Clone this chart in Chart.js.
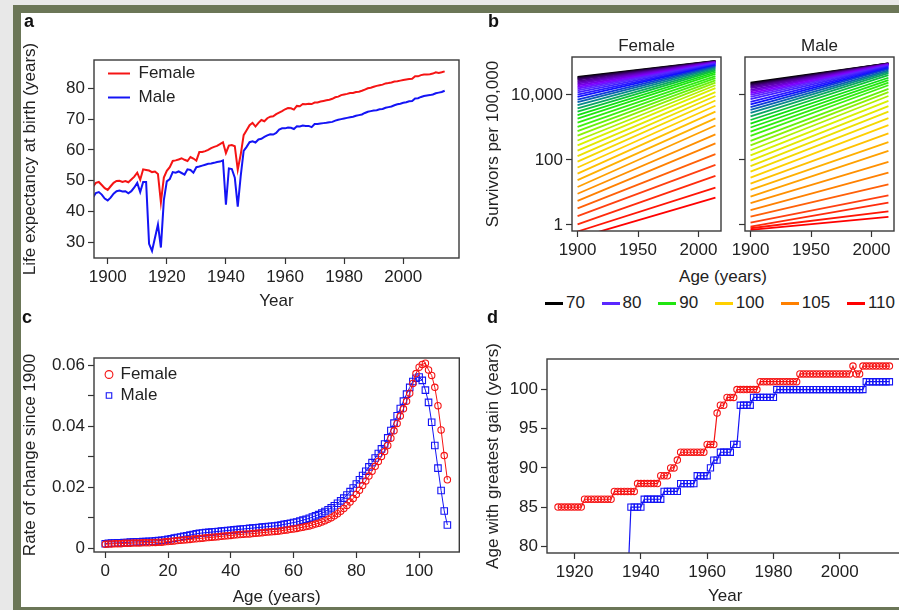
<!DOCTYPE html>
<html>
<head>
<meta charset="utf-8">
<script src="https://cdn.jsdelivr.net/npm/chart.js@4.4.1/dist/chart.umd.min.js"></script>
<style>
html, body { margin: 0; padding: 0; width: 899px; height: 610px; overflow: hidden; background: #e8e8e8; font-family: "Liberation Sans", Arial, sans-serif; }
#frame { position: absolute; left: 13px; top: 5px; width: 1000px; height: 594px; border: 8px solid #6b7657; background: #fff; }
#frameBottom { position: absolute; left: 13px; top: 607px; width: 1000px; height: 8px; background: #6b7657; z-index: 5; }
canvas { position: absolute; z-index: 2; }
.lbl { position: absolute; font-weight: bold; font-size: 18px; line-height: 18px; color: #111; z-index: 3; }
.txt { position: absolute; font-size: 17px; line-height: 20px; color: #222; z-index: 3; }
#bLegend { position: absolute; left: 545px; top: 293px; width: 350px; height: 20px; display: flex; justify-content: space-between; align-items: center; z-index: 3; }
#bLegend span.sw { display: inline-block; width: 18px; height: 3px; margin-right: 3px; vertical-align: middle; }
#bLegend div { font-size: 17px; color: #222; white-space: nowrap; }
</style>
</head>
<body>
<div id="frame"></div>
<div id="frameBottom"></div>

<div class="lbl" style="left:24px;top:12px">a</div>
<div class="lbl" style="left:488px;top:12px">b</div>
<div class="lbl" style="left:22px;top:308px">c</div>
<div class="lbl" style="left:487px;top:308px">d</div>

<canvas id="cA" width="443" height="282" style="left:20px;top:30px"></canvas>
<canvas id="cBF" width="242" height="232" style="left:483px;top:30px"></canvas>
<canvas id="cBM" width="171" height="232" style="left:728px;top:30px"></canvas>
<canvas id="cC" width="445" height="278" style="left:20px;top:330px"></canvas>
<canvas id="cD" width="426" height="277" style="left:483px;top:330px"></canvas>

<div class="txt" style="left:623px;top:267px;width:200px;text-align:center">Age (years)</div>
<div id="bLegend"></div>

<script>
// ---------- panel a: life expectancy at birth, 1895-2014 ----------
var aFirstYear = 1895;
var aFemale = [
  48.0, 49.3, 49.6, 48.6, 47.6, 47.0, 48.2, 49.3, 49.9, 50.0,
  49.6, 49.9, 49.5, 50.4, 51.3, 52.6, 50.3, 53.7, 53.5, 53.3,
  52.8, 53.0, 52.2, 43.0, 51.0, 53.2, 54.4, 56.4, 56.6, 56.9,
  57.3, 56.8, 56.4, 57.7, 57.2, 56.5, 59.3, 59.3, 59.6, 60.0,
  60.6, 61.0, 61.3, 61.9, 62.5, 59.0, 61.4, 61.6, 61.2, 53.6,
  58.5, 64.8, 66.4, 68.0, 68.8, 67.6, 68.8, 69.7, 69.3, 70.3,
  70.8, 70.9, 71.6, 72.1, 72.6, 73.2, 73.6, 73.5, 73.1, 74.3,
  74.2, 74.9, 74.8, 75.0, 74.9, 75.4, 75.4, 75.7, 75.9, 76.1,
  76.3, 76.6, 77.1, 77.3, 77.8, 78.0, 78.2, 78.5, 78.5, 78.8,
  78.9, 79.2, 79.6, 80.0, 80.2, 80.5, 80.8, 81.0, 81.2, 81.6,
  81.7, 81.9, 82.2, 82.3, 82.5, 82.7, 82.9, 83.0, 83.1, 83.9,
  83.9, 84.3, 84.5, 84.5, 84.6, 84.8, 85.2, 85.0, 85.2, 85.5
];
var aMale = [
  44.5, 46.0, 46.3, 45.5, 44.2, 43.6, 44.5, 45.8, 46.6, 46.8,
  46.5, 46.6, 45.9, 46.6, 47.8, 49.3, 46.3, 49.6, 49.6, 29.5,
  27.2, 31.5, 35.8, 28.3, 43.7, 49.8, 50.5, 52.8, 52.6, 53.0,
  52.5, 52.0, 53.7, 53.5, 52.6, 54.4, 54.6, 54.9, 55.2, 55.5,
  55.6, 55.8, 56.1, 56.2, 56.6, 42.2, 54.0, 53.8, 51.0, 41.6,
  51.5, 59.7, 61.0, 62.5, 62.8, 62.4, 63.4, 63.6, 64.2, 64.7,
  65.1, 65.0, 65.5, 66.6, 67.0, 67.0, 67.3, 67.2, 66.8, 67.7,
  67.6, 67.9, 67.8, 67.8, 67.4, 68.4, 68.4, 68.6, 68.7, 68.8,
  69.0, 69.1, 69.5, 69.8, 70.0, 70.2, 70.4, 70.6, 70.8, 71.1,
  71.3, 71.5, 72.0, 72.4, 72.6, 72.8, 72.9, 73.2, 73.3, 73.7,
  73.9, 74.1, 74.5, 74.8, 75.0, 75.3, 75.5, 75.8, 75.9, 76.7,
  76.8, 77.2, 77.5, 77.7, 77.8, 78.0, 78.4, 78.6, 78.8, 79.2
];
var aXTicks = [1900, 1920, 1940, 1960, 1980, 2000];
var aXLabels = ['1900', '1920', '1940', '1960', '1980', '2000'];
var aYTicks = [30, 40, 50, 60, 70, 80];
var aYLabels = ['30', '40', '50', '60', '70', '80'];

// ---------- panel b: survivors per 100,000 (log10), line per age, 1900 -> 2014 ----------
var bAges = [70, 71, 72, 73, 74, 75, 76, 77, 78, 79, 80, 81, 82, 83, 84, 85, 86, 87, 88, 89,
  90, 91, 92, 93, 94, 95, 96, 97, 98, 99, 100, 101, 102, 103, 104, 105, 106, 107, 108, 109, 110];
var bYears = [1900, 2014];
var bFemaleStart = [
  4.56, 4.53, 4.50, 4.47, 4.43, 4.39, 4.35, 4.30, 4.25, 4.20,
  4.14, 4.08, 4.01, 3.94, 3.86, 3.78, 3.69, 3.59, 3.49, 3.38,
  3.27, 3.15, 3.02, 2.89, 2.75, 2.60, 2.45, 2.29, 2.12, 1.95,
  1.77, 1.58, 1.38, 1.17, 0.96, 0.74, 0.51, 0.27, 0.02, -0.20,
  -0.40
];
var bFemaleEnd = [
  5.05, 5.04, 5.04, 5.03, 5.03, 5.02, 5.01, 5.00, 4.99, 4.98,
  4.97, 4.95, 4.93, 4.91, 4.89, 4.86, 4.83, 4.79, 4.75, 4.70,
  4.65, 4.58, 4.52, 4.45, 4.38, 4.30, 4.21, 4.09, 3.97, 3.83,
  3.67, 3.49, 3.28, 3.06, 2.79, 2.51, 2.18, 1.85, 1.51, 1.15,
  0.84
];
var bMaleStart = [
  4.38, 4.35, 4.32, 4.29, 4.25, 4.21, 4.16, 4.11, 4.06, 4.00,
  3.94, 3.87, 3.79, 3.71, 3.63, 3.54, 3.45, 3.34, 3.23, 3.12,
  3.00, 2.87, 2.74, 2.59, 2.45, 2.30, 2.14, 1.98, 1.81, 1.64,
  1.46, 1.27, 1.08, 0.87, 0.67, 0.46, 0.26, 0.07, -0.05, -0.10,
  -0.15
];
var bMaleEnd = [
  4.97, 4.97, 4.97, 4.96, 4.96, 4.95, 4.95, 4.94, 4.93, 4.92,
  4.90, 4.88, 4.86, 4.83, 4.80, 4.76, 4.72, 4.67, 4.61, 4.53,
  4.46, 4.38, 4.30, 4.19, 4.09, 3.97, 3.82, 3.66, 3.49, 3.29,
  3.07, 2.82, 2.55, 2.28, 1.94, 1.61, 1.25, 0.91, 0.69, 0.42,
  0.25
];
var bXTicks = [1900, 1950, 2000];
var bXLabels = ['1900', '1950', '2000'];
var bYTicks = [1, 100, 10000];
var bYLabels = ['1', '100', '10,000'];
var bLegendAges = [70, 80, 90, 100, 105, 110];
// colour ramp used for the age lines
var bColorAges = [70, 74, 78, 80, 83, 86, 89, 92, 96, 100, 105, 107, 110];
var bColorHex = ['#000000', '#4e0090', '#8000ff', '#5a28ff', '#1010ff', '#0a8a8a', '#10e010', '#40f010', '#d8f000', '#ffd000', '#ff8000', '#ff4010', '#ff0000'];

// ---------- panel c: rate of change since 1900, ages 0-109 ----------
var cFemale = [
  0.0014, 0.0015, 0.0015, 0.0016, 0.0016, 0.0016, 0.0017, 0.0017, 0.0017, 0.0018,
  0.0018, 0.0018, 0.0019, 0.0019, 0.0019, 0.0020, 0.0020, 0.0021, 0.0021, 0.0022,
  0.0023, 0.0024, 0.0025, 0.0026, 0.0027, 0.0028, 0.0029, 0.0030, 0.0031, 0.0032,
  0.0033, 0.0034, 0.0035, 0.0036, 0.0037, 0.0038, 0.0039, 0.0040, 0.0041, 0.0042,
  0.0043, 0.0044, 0.0045, 0.0046, 0.0047, 0.0048, 0.0048, 0.0049, 0.0050, 0.0051,
  0.0052, 0.0053, 0.0054, 0.0055, 0.0056, 0.0057, 0.0058, 0.0060, 0.0061, 0.0063,
  0.0064, 0.0066, 0.0068, 0.0070, 0.0072, 0.0074, 0.0077, 0.0080, 0.0083, 0.0087,
  0.0091, 0.0096, 0.0101, 0.0107, 0.0114, 0.0122, 0.0131, 0.0141, 0.0152, 0.0164,
  0.0177, 0.0191, 0.0206, 0.0221, 0.0237, 0.0253, 0.0269, 0.0285, 0.0301, 0.0317,
  0.0337, 0.0361, 0.0385, 0.0409, 0.0433, 0.0457, 0.0482, 0.0508, 0.0540, 0.0572,
  0.0593, 0.0602, 0.0606, 0.0584, 0.0566, 0.0527, 0.0467, 0.0388, 0.0304, 0.0225
];
var cMale = [
  0.0016, 0.0017, 0.0018, 0.0018, 0.0019, 0.0019, 0.0020, 0.0020, 0.0021, 0.0021,
  0.0022, 0.0022, 0.0023, 0.0023, 0.0024, 0.0024, 0.0025, 0.0026, 0.0027, 0.0028,
  0.0030, 0.0032, 0.0034, 0.0036, 0.0038, 0.0040, 0.0042, 0.0044, 0.0046, 0.0048,
  0.0050, 0.0051, 0.0052, 0.0053, 0.0054, 0.0055, 0.0056, 0.0057, 0.0058, 0.0059,
  0.0060, 0.0061, 0.0062, 0.0063, 0.0064, 0.0065, 0.0066, 0.0067, 0.0068, 0.0069,
  0.0070, 0.0071, 0.0072, 0.0073, 0.0074, 0.0075, 0.0077, 0.0079, 0.0081, 0.0083,
  0.0085, 0.0087, 0.0090, 0.0093, 0.0096, 0.0099, 0.0103, 0.0107, 0.0111, 0.0116,
  0.0121, 0.0127, 0.0133, 0.0140, 0.0148, 0.0156, 0.0165, 0.0175, 0.0186, 0.0198,
  0.0211, 0.0225, 0.0239, 0.0253, 0.0267, 0.0281, 0.0296, 0.0311, 0.0326, 0.0342,
  0.0362, 0.0386, 0.0410, 0.0434, 0.0458, 0.0482, 0.0505, 0.0527, 0.0546, 0.0557,
  0.0561, 0.0550, 0.0518, 0.0478, 0.0413, 0.0337, 0.0263, 0.0190, 0.0123, 0.0077
];
var cXTicks = [0, 20, 40, 60, 80, 100];
var cXLabels = ['0', '20', '40', '60', '80', '100'];
var cYTicks = [0, 0.01, 0.02, 0.03, 0.04, 0.05, 0.06];
var cYLabels = ['0', '', '0.02', '', '0.04', '', '0.06'];

// ---------- panel d: age with greatest gain ----------
var dFemaleFirstYear = 1915;
var dFemale = [
  85, 85, 85, 85, 85, 85, 85, 85,
  86, 86, 86, 86, 86, 86, 86, 86, 86,
  87, 87, 87, 87, 87, 87, 87,
  88, 88, 88, 88, 88, 88, 88,
  89, 89, 89, 90, 90, 91,
  92, 92, 92, 92, 92, 92, 92, 92,
  93, 93, 93, 97, 98, 98, 99, 99, 99,
  100, 100, 100, 100, 100, 100, 100,
  101, 101, 101, 101, 101, 101, 101, 101, 101, 101, 101, 101,
  102, 102, 102, 102, 102, 102, 102, 102, 102, 102, 102, 102, 102, 102, 102, 102,
  103, 102, 102,
  103, 103, 103, 103, 103, 103, 103, 103, 103
];
var dMaleFirstYear = 1936;
var dMale = [
  75,
  85, 85, 85, 85,
  86, 86, 86, 86, 86, 86,
  87, 87, 87, 87, 87,
  88, 88, 88, 88, 88,
  89, 89, 89, 89,
  90, 91, 91,
  92, 92, 92, 92,
  93, 93,
  98, 98, 98, 98,
  99, 99, 99, 99, 99, 99, 99,
  100, 100, 100, 100, 100, 100, 100, 100, 100, 100, 100, 100, 100, 100,
  100, 100, 100, 100, 100, 100, 100, 100, 100, 100, 100, 100, 100,
  101, 101, 101, 101, 101, 101, 101, 101
];
var dXTicks = [1920, 1940, 1960, 1980, 2000];
var dXLabels = ['1920', '1940', '1960', '1980', '2000'];
var dYTicks = [80, 85, 90, 95, 100];
var dYLabels = ['80', '85', '90', '95', '100'];

var RED = '#f51414';
var BLUE = '#1414f5';
var NONE = 'rgba(255,255,255,0)';

Chart.defaults.font.family = '"Liberation Sans", Arial, Helvetica, sans-serif';
Chart.defaults.font.size = 17;
Chart.defaults.color = '#222';

// R style box round the plot region
var plotBox = {
  id: 'plotBox',
  afterDatasetsDraw: function(chart) {
    var a = chart.chartArea, ctx = chart.ctx;
    ctx.save();
    ctx.strokeStyle = '#3a3a3a';
    ctx.lineWidth = 1.4;
    ctx.strokeRect(a.left, a.top, a.right - a.left, a.bottom - a.top);
    ctx.restore();
  }
};

// put the in-plot legend at the top left corner
var legendSpot = {
  id: 'legendSpot',
  afterLayout: function(chart, args, opts) {
    var lg = chart.legend;
    if (!lg || opts.dx === undefined) return;
    var a = chart.chartArea;
    lg.left = a.left + opts.dx;
    lg.top = a.top + opts.dy;
    lg.right = a.right;
    lg.bottom = a.bottom;
  }
};

function axis(o) {
  return {
    type: o.type || 'linear',
    position: o.position,
    min: o.min,
    max: o.max,
    afterBuildTicks: function(s) { s.ticks = o.ticks.map(function(v) { return { value: v }; }); },
    afterFit: function(s) { if (o.position === 'left') s.width = o.size; else s.height = o.size; },
    ticks: {
      display: o.showLabels !== false,
      padding: 3,
      color: '#222',
      maxRotation: 0,
      autoSkip: false,
      callback: function(v, i) { return o.labels[i]; }
    },
    grid: { display: true, drawOnChartArea: false, drawTicks: true, tickLength: 6, tickColor: '#333', tickWidth: 1.2 },
    border: { display: false },
    title: o.title ? { display: true, text: o.title, padding: 0, color: '#222' } : { display: false }
  };
}

function pts(xs, ys) {
  return ys.map(function(y, i) { return { x: xs[i], y: y }; });
}
function yearsFrom(first, arr) {
  return arr.map(function(_, i) { return first + i; });
}

function hexToRgb(h) {
  return [parseInt(h.substr(1, 2), 16), parseInt(h.substr(3, 2), 16), parseInt(h.substr(5, 2), 16)];
}
function ageColor(age) {
  for (var k = 0; k < bColorAges.length - 1; k++) {
    if (age <= bColorAges[k + 1]) {
      var t = (age - bColorAges[k]) / (bColorAges[k + 1] - bColorAges[k]);
      var c0 = hexToRgb(bColorHex[k]), c1 = hexToRgb(bColorHex[k + 1]);
      var c = c0.map(function(v, j) { return Math.round(v + (c1[j] - v) * t); });
      return 'rgb(' + c.join(',') + ')';
    }
  }
  return bColorHex[bColorHex.length - 1];
}

var base = { responsive: false, animation: false, devicePixelRatio: 1, events: [] };

// ---------- a ----------
var aYears = yearsFrom(aFirstYear, aFemale);
new Chart(document.getElementById('cA'), {
  type: 'line',
  data: {
    datasets: [
      { label: 'Female', data: pts(aYears, aFemale), borderColor: RED, backgroundColor: RED, borderWidth: 2, pointRadius: 0, clip: 0 },
      { label: 'Male', data: pts(aYears, aMale), borderColor: BLUE, backgroundColor: BLUE, borderWidth: 2, pointRadius: 0, clip: 0 }
    ]
  },
  options: Object.assign({}, base, {
    layout: { padding: { top: 30, right: 4, left: 0, bottom: 0 } },
    plugins: {
      legend: {
        position: 'chartArea', align: 'start',
        labels: {
          boxWidth: 22, boxHeight: 2, padding: 7, color: '#222',
          generateLabels: function(chart) {
            return Chart.defaults.plugins.legend.labels.generateLabels(chart).map(function(l) { l.lineWidth = 0; return l; });
          }
        }
      },
      tooltip: { enabled: false },
      legendSpot: { dx: 7, dy: -2 }
    },
    scales: {
      x: axis({ position: 'bottom', min: 1895.37, max: 2018.85, ticks: aXTicks, labels: aXLabels, size: 54, title: 'Year' }),
      y: axis({ position: 'left', min: 24.9, max: 89.2, ticks: aYTicks, labels: aYLabels, size: 74, title: 'Life expectancy at birth (years)' })
    }
  }),
  plugins: [plotBox, legendSpot]
});

// ---------- b ----------
function survivorSets(starts, ends) {
  return bAges.map(function(age, i) {
    return {
      label: String(age),
      data: pts(bYears, [Math.pow(10, starts[i]), Math.pow(10, ends[i])]),
      borderColor: ageColor(age),
      borderWidth: 1.8,
      pointRadius: 0,
      clip: 0,
      order: 110 - age
    };
  });
}
function survivorChart(id, sex, starts, ends, showY) {
  new Chart(document.getElementById(id), {
    type: 'line',
    data: { datasets: survivorSets(starts, ends) },
    options: Object.assign({}, base, {
      layout: { padding: { top: 0, right: showY ? 4 : 5, left: 0, bottom: 0 } },
      plugins: {
        legend: { display: false },
        tooltip: { enabled: false },
        title: { display: true, text: sex, fullSize: false, padding: { top: 6, bottom: 0.6 }, font: { size: 17, weight: 'normal' }, color: '#222' }
      },
      scales: {
        x: axis({ position: 'bottom', min: 1895.4, max: 2018.6, ticks: bXTicks, labels: bXLabels, size: 31 }),
        y: axis({ type: 'logarithmic', position: 'left', min: Math.pow(10, -0.185), max: Math.pow(10, 5.169), ticks: bYTicks, labels: bYLabels,
                  size: showY ? 89 : 16, showLabels: showY, title: showY ? 'Survivors per 100,000' : null })
      }
    }),
    plugins: [plotBox]
  });
}
survivorChart('cBF', 'Female', bFemaleStart, bFemaleEnd, true);
survivorChart('cBM', 'Male', bMaleStart, bMaleEnd, false);

var legendBox = document.getElementById('bLegend');
bLegendAges.forEach(function(age) {
  var item = document.createElement('div');
  var sw = document.createElement('span');
  sw.className = 'sw';
  sw.style.background = ageColor(age);
  item.appendChild(sw);
  item.appendChild(document.createTextNode(String(age)));
  legendBox.appendChild(item);
});

// ---------- c ----------
var cAges = cFemale.map(function(_, i) { return i; });
new Chart(document.getElementById('cC'), {
  type: 'line',
  data: {
    datasets: [
      { label: 'Female', data: pts(cAges, cFemale), borderColor: RED, backgroundColor: NONE, borderWidth: 1,
        pointStyle: 'circle', pointRadius: 3.2, pointBorderWidth: 1.1, pointBorderColor: RED, pointBackgroundColor: NONE, clip: 0 },
      { label: 'Male', data: pts(cAges, cMale), borderColor: BLUE, backgroundColor: NONE, borderWidth: 1,
        pointStyle: 'rect', pointRadius: 4.6, pointBorderWidth: 1.1, pointBorderColor: BLUE, pointBackgroundColor: NONE, clip: 0 }
    ]
  },
  options: Object.assign({}, base, {
    layout: { padding: { top: 28, right: 4, left: 0, bottom: 0 } },
    plugins: {
      legend: { position: 'chartArea', align: 'start', labels: { usePointStyle: true, boxWidth: 6, boxHeight: 5.5, padding: 4, color: '#222' } },
      tooltip: { enabled: false },
      legendSpot: { dx: 8, dy: 4 }
    },
    scales: {
      x: axis({ position: 'bottom', min: -3.58, max: 112.8, ticks: cXTicks, labels: cXLabels, size: 56, title: 'Age (years)' }),
      y: axis({ position: 'left', min: -0.00112, max: 0.0623, ticks: cYTicks, labels: cYLabels, size: 74, title: 'Rate of change since 1900' })
    }
  }),
  plugins: [plotBox, legendSpot]
});

// ---------- d ----------
new Chart(document.getElementById('cD'), {
  type: 'line',
  data: {
    datasets: [
      { label: 'Female', data: pts(yearsFrom(dFemaleFirstYear, dFemale), dFemale), borderColor: RED, backgroundColor: NONE, borderWidth: 1.2,
        pointStyle: 'circle', pointRadius: 3.2, pointBorderWidth: 1.1, pointBorderColor: RED, pointBackgroundColor: NONE, clip: 0 },
      { label: 'Male', data: pts(yearsFrom(dMaleFirstYear, dMale), dMale), borderColor: BLUE, backgroundColor: NONE, borderWidth: 1.2,
        pointStyle: 'rect', pointRadius: 4.4, pointBorderWidth: 1.1, pointBorderColor: BLUE, pointBackgroundColor: NONE, clip: 0 }
    ]
  },
  options: Object.assign({}, base, {
    layout: { padding: { top: 29, right: 4, left: 0, bottom: 0 } },
    plugins: { legend: { display: false }, tooltip: { enabled: false } },
    scales: {
      x: axis({ position: 'bottom', min: 1911.67, max: 2019.25, ticks: dXTicks, labels: dXLabels, size: 54, title: 'Year' }),
      y: axis({ position: 'left', min: 79.14, max: 103.9, ticks: dYTicks, labels: dYLabels, size: 64, title: 'Age with greatest gain (years)' })
    }
  }),
  plugins: [plotBox]
});
</script>
</body>
</html>
